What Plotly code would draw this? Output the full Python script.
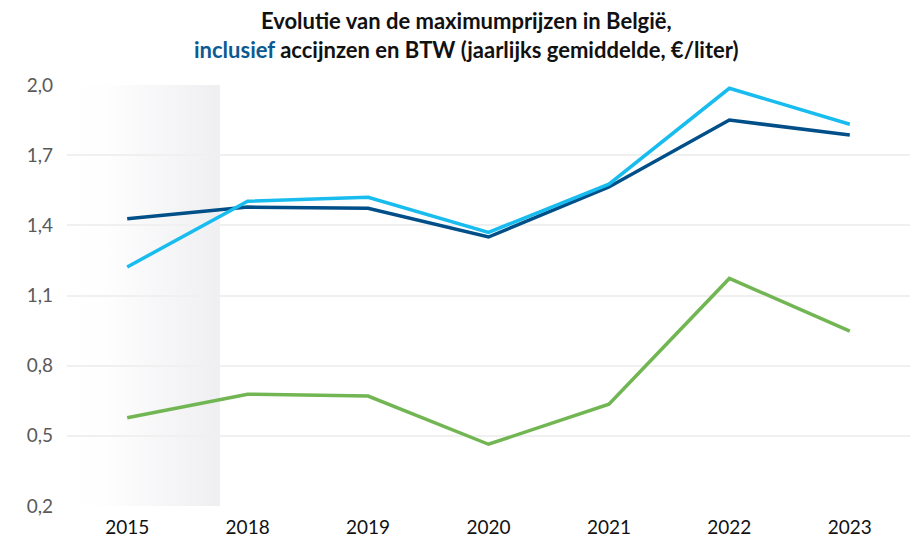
import plotly.graph_objects as go

years = ["2015", "2018", "2019", "2020", "2021", "2022", "2023"]
light_blue = [1.222, 1.503, 1.520, 1.370, 1.576, 1.986, 1.832]
dark_blue = [1.428, 1.478, 1.473, 1.350, 1.564, 1.850, 1.786]
green = [0.577, 0.678, 0.670, 0.464, 0.635, 1.173, 0.948]
y_ticks = [0.2, 0.5, 0.8, 1.1, 1.4, 1.7, 2.0]
band_end = 0.77  # category coordinate where the shaded period ends
title_line1 = "Evolutie van de maximumprijzen in België,"
title_line2 = ("<span style='color:#0b5a92'>inclusief</span> accijnzen en BTW "
               "(jaarlijks gemiddelde, €/liter)")

FONT = "Source Sans Pro, Lato, sans-serif"
W, H = 917, 548
M = dict(l=67, r=7, t=85, b=42)
PH = H - M["t"] - M["b"]

fig = go.Figure()
for vals, col in [(green, "#72b653"), (dark_blue, "#004f88"), (light_blue, "#18bcef")]:
    fig.add_trace(go.Scatter(x=years, y=vals, mode="lines",
                             line=dict(color=col, width=3.5), showlegend=False,
                             hoverinfo="x+y"))

svg = ("data:image/svg+xml;utf8,<svg xmlns='http://www.w3.org/2000/svg' width='100' height='100' "
       "preserveAspectRatio='none'><defs><linearGradient id='g' x1='0' x2='1' y1='0' y2='0'>"
       "<stop offset='0' stop-color='%23ffffff'/><stop offset='0.25' stop-color='%23fefeff'/>"
       "<stop offset='1' stop-color='%23efeff1'/></linearGradient></defs>"
       "<rect width='100' height='100' fill='url(%23g)'/></svg>")
fig.add_layout_image(dict(source=svg, xref="x", yref="y", x=-0.5, y=2.0,
                          sizex=band_end + 0.5, sizey=1.8, sizing="stretch",
                          xanchor="left", yanchor="top", layer="below", opacity=1))

def ypaper(px):
    return 1 + (M["t"] - px) / PH

fig.add_annotation(text="<b>" + title_line1 + "<br>" + title_line2 + "</b>",
                   xref="paper", yref="paper",
                   x=(466 - M["l"]) / (W - M["l"] - M["r"]), y=ypaper(35.5),
                   xanchor="center", yanchor="middle", showarrow=False, align="center",
                   font=dict(family=FONT, size=22, color="#111111"))

fig.update_layout(
    width=W, height=H,
    margin=M,
    paper_bgcolor="white", plot_bgcolor="white",
    separators=",.",
    xaxis=dict(type="category", range=[-0.5, 6.5], showgrid=False, zeroline=False,
               showline=False, ticks="", tickfont=dict(family=FONT, size=19, color="#111111"),
               ticklabelstandoff=8),
    yaxis=dict(range=[0.2, 2.0], tickvals=y_ticks, tickformat=".1f",
               showgrid=True, gridcolor="#f0f0f0", gridwidth=1.5, zeroline=False,
               showline=False, ticks="",
               tickfont=dict(family=FONT, size=19, color="#5a5a5a"),
               ticklabelstandoff=13),
)

fig.write_html("out.html", config={"displayModeBar": False},
               post_script="document.body.style.margin='0px';")
